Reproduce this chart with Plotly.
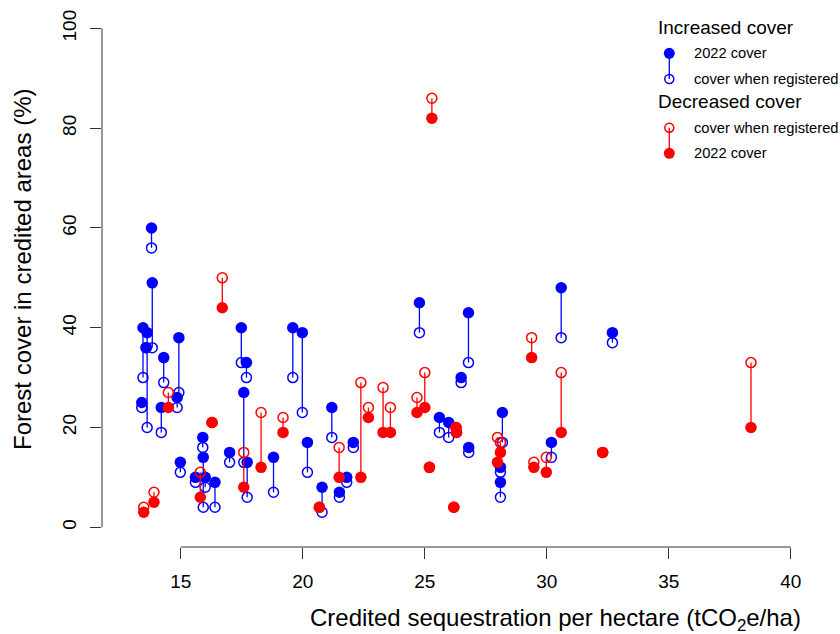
import plotly.graph_objects as go

# ---------------- data ----------------
# Increased cover (blue): credited sequestration, cover when registered, 2022 cover
inc_x = [13.80, 13.83, 13.45, 13.62, 13.58, 13.40, 14.30, 14.20, 14.85, 14.92,
         14.98, 15.90, 15.92, 15.60, 16.00, 16.40, 17.00, 17.48, 17.69, 17.58,
         17.72, 18.80, 19.59, 19.98, 20.19, 20.79, 21.19, 21.50, 21.80, 22.07,
         24.78, 25.60, 25.98, 26.49, 26.79, 26.80, 28.18, 28.10, 28.10, 30.19,
         30.59, 32.69]
inc_reg = [56, 36, 30, 20, 36, 24, 29, 19, 24, 27,
           11, 16, 4, 9, 8, 4, 13, 33, 30, 13,
           6, 7, 30, 23, 11, 3, 18, 6, 9, 16,
           39, 19, 18, 29, 33, 15, 17, 11, 6, 14,
           38, 37]
inc_2022 = [60, 49, 40, 39, 36, 25, 34, 24, 26, 38,
            13, 18, 14, 10, 10, 9, 15, 40, 33, 27,
            13, 14, 40, 39, 17, 8, 24, 7, 10, 17,
            45, 22, 21, 30, 43, 16, 23, 12, 9, 17,
            48, 39]

# Decreased cover (red)
dec_x = [13.48, 13.90, 14.49, 15.80, 16.28, 16.70, 17.58, 18.29, 19.19, 20.68,
         21.49, 22.38, 22.69, 23.29, 23.59, 24.68, 25.00, 25.19, 25.29, 26.19,
         26.28, 26.30, 27.98, 28.10, 29.38, 29.47, 29.98, 30.59, 32.29, 38.37]
dec_reg = [4, 7, 27, 11, 21, 50, 15, 23, 22, 4,
           16, 29, 24, 28, 24, 26, 31, 12, 86, 4,
           20, 19, 18, 17, 38, 13, 14, 31, 15, 33]
dec_2022 = [3, 5, 24, 6, 21, 44, 8, 12, 19, 4,
            10, 10, 22, 19, 19, 23, 24, 12, 82, 4,
            20, 19, 13, 15, 34, 12, 11, 19, 15, 20]

x_ticks = [15, 20, 25, 30, 35, 40]
y_ticks = [0, 20, 40, 60, 80, 100]

BLUE = "#0000FF"
RED = "#FF0000"
FONT = "Liberation Sans, Arial, sans-serif"
AXC = "#333333"


def segments(xs, a, b):
    sx, sy = [], []
    for x, y0, y1 in zip(xs, a, b):
        sx += [x, x, None]
        sy += [y0, y1, None]
    return sx, sy


fig = go.Figure()
for xs, reg, now, col in [(inc_x, inc_reg, inc_2022, BLUE), (dec_x, dec_reg, dec_2022, RED)]:
    sx, sy = segments(xs, reg, now)
    fig.add_trace(go.Scatter(x=sx, y=sy, mode="lines", line=dict(color=col, width=1.3),
                             hoverinfo="skip", showlegend=False))
    fig.add_trace(go.Scatter(x=xs, y=reg, mode="markers", showlegend=False,
                             marker=dict(symbol="circle-open", size=10, color=col,
                                         line=dict(width=1.5, color=col))))
    fig.add_trace(go.Scatter(x=xs, y=now, mode="markers", showlegend=False,
                             marker=dict(symbol="circle", size=11.5, color=col,
                                         line=dict(width=0))))

# plot-area pixel geometry
L, R, T, B = 102, 822, 8, 547
W, H = R - L, B - T


def px(p):
    return (p - L) / W


def py(p):
    return (B - p) / H


shapes = [
    # R-style axis lines spanning the tick range only
    dict(type="line", xref="x", yref="paper", x0=x_ticks[0], x1=x_ticks[-1], y0=0, y1=0,
         line=dict(color=AXC, width=1)),
    dict(type="line", xref="paper", yref="y", x0=0, x1=0, y0=y_ticks[0], y1=y_ticks[-1],
         line=dict(color=AXC, width=1)),
    # legend connectors
    dict(type="line", xref="paper", yref="paper", x0=px(669.3), x1=px(669.3),
         y0=py(53.3), y1=py(79), line=dict(color=BLUE, width=1.3)),
    dict(type="line", xref="paper", yref="paper", x0=px(669.3), x1=px(669.3),
         y0=py(127.7), y1=py(153.3), line=dict(color=RED, width=1.3)),
]


def circ(xp, yp, col, filled):
    r = 5.5 if filled else 4.5
    return dict(type="circle", xref="paper", yref="paper", xsizemode="pixel", ysizemode="pixel",
                xanchor=px(xp), yanchor=py(yp), x0=-r, x1=r, y0=-r, y1=r,
                fillcolor=col if filled else "rgba(0,0,0,0)",
                line=dict(color=col, width=0 if filled else 1.5))


shapes += [circ(669.3, 53.3, BLUE, True), circ(669.3, 79, BLUE, False),
           circ(669.3, 127.7, RED, False), circ(669.3, 153.3, RED, True)]

annotations = [
    dict(text="Credited sequestration per hectare (tCO<sub>2</sub>e/ha)", xref="paper", yref="paper",
         x=px(555), y=py(619), xanchor="center", yanchor="middle", showarrow=False,
         font=dict(size=24, color="black", family=FONT)),
    dict(text="Forest cover in credited areas (%)", xref="paper", yref="paper",
         x=px(22), y=py(270), xanchor="center", yanchor="middle", textangle=-90, showarrow=False,
         font=dict(size=24, color="black", family=FONT)),
]
for txt, xp, yp, sz in [("Increased cover", 656, 27.3, 19), ("2022 cover", 691.7, 53.3, 14.7),
                        ("cover when registered", 691.7, 79, 14.7), ("Decreased cover", 656, 101.7, 19),
                        ("cover when registered", 691.7, 127.7, 14.7), ("2022 cover", 691.7, 153.3, 14.7)]:
    annotations.append(dict(text=txt, xref="paper", yref="paper", x=px(xp), y=py(yp),
                            xanchor="left", yanchor="middle", showarrow=False,
                            font=dict(size=sz, color="black", family=FONT)))

ax_common = dict(showgrid=False, zeroline=False, showline=False, ticks="outside", ticklen=11,
                 tickwidth=1, tickcolor=AXC, tickfont=dict(size=19, color="black", family=FONT))

fig.update_layout(
    width=840, height=634,
    margin=dict(l=L, r=840 - R, t=T, b=634 - B, pad=0),
    plot_bgcolor="white", paper_bgcolor="white",
    showlegend=False,
    xaxis=dict(range=[11.77, 41.28], tickvals=x_ticks, ticktext=[str(v) for v in x_ticks],
               ticklabelstandoff=6, **ax_common),
    yaxis=dict(range=[-3.97, 104.1], tickvals=y_ticks, ticktext=[str(v) for v in y_ticks],
               tickangle=-90, ticklabelstandoff=6, **ax_common),
    shapes=shapes,
    annotations=annotations,
    font=dict(family=FONT),
)

fig.write_html("out.html", config={"displayModeBar": False},
               post_script="document.body.style.margin='0';document.body.style.overflow='hidden';")
